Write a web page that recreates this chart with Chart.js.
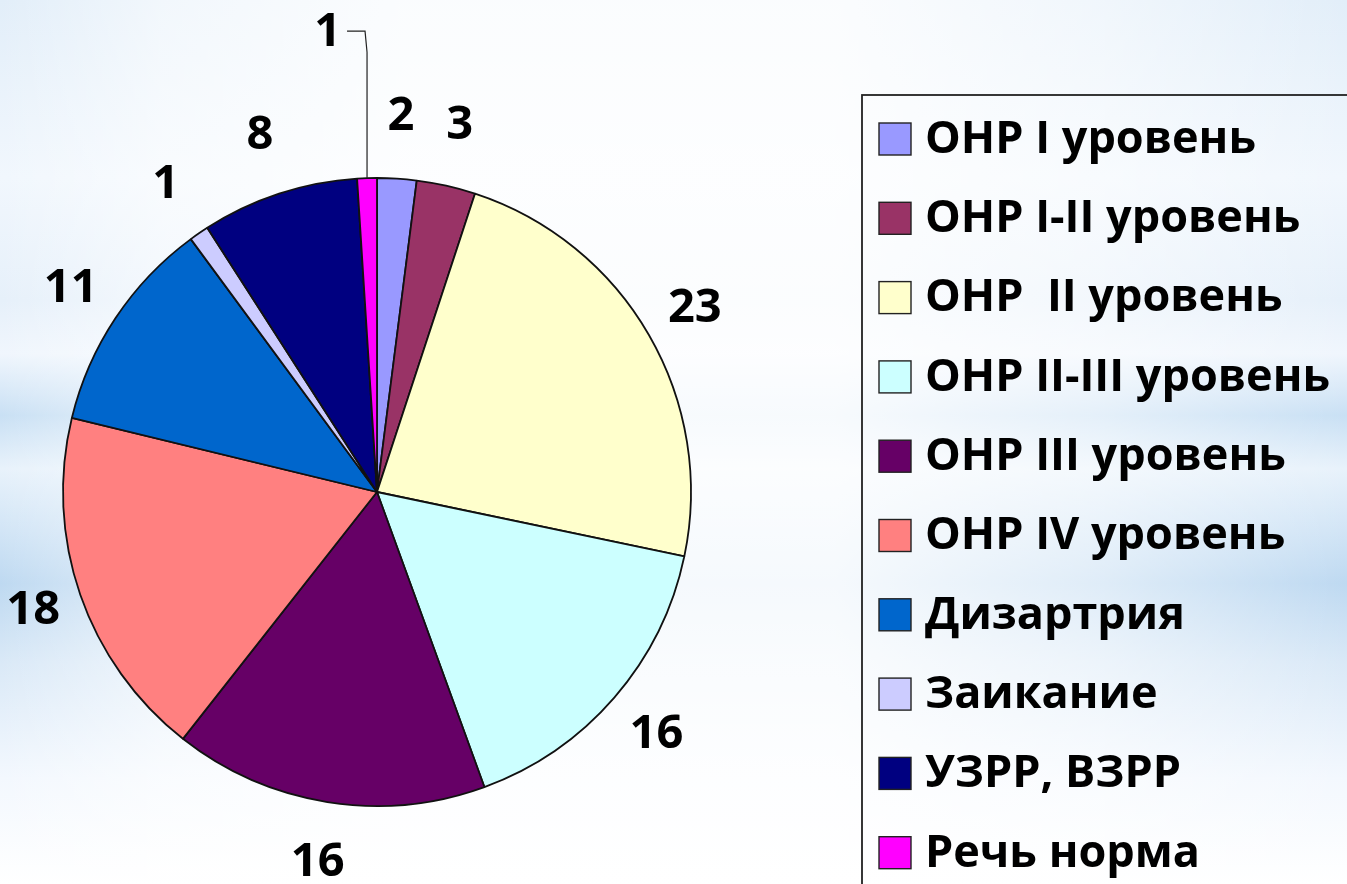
<!DOCTYPE html>
<html>
<head>
<meta charset="utf-8">
<script src="https://cdn.jsdelivr.net/npm/chart.js@4.4.1/dist/chart.umd.min.js"></script>
<style>
  html, body { margin: 0; padding: 0; width: 1347px; height: 884px; overflow: hidden; }
  body {
    background:
      linear-gradient(to right, rgba(255,255,255,0) 0%, rgba(255,255,255,0.55) 12%, rgba(255,255,255,0.85) 30%, rgba(255,255,255,0.85) 62%, rgba(255,255,255,0.5) 82%, rgba(255,255,255,0) 100%),
      linear-gradient(to bottom, #e2eef9 0%, #f1f7fd 20%, #e6f0fa 34%, #f0f6fd 40%, #c9e0f4 47%, #e8f2fb 53%, #d2e5f6 60%, #bed9f1 66%, #dae9f7 75%, #f3f8fe 88%, #ffffff 100%);
  }
  #wrap { position: absolute; left: 0; top: 0; width: 1347px; height: 884px; }
</style>
</head>
<body>
<div id="wrap"><canvas id="c" width="1347" height="884"></canvas></div>
<script>
const categories = [
  'ОНР I уровень',
  'ОНР I-II уровень',
  'ОНР  II уровень',
  'ОНР II-III уровень',
  'ОНР III уровень',
  'ОНР IV уровень',
  'Дизартрия',
  'Заикание',
  'УЗРР, ВЗРР',
  'Речь норма'
];
const values = [2, 3, 23, 16, 16, 18, 11, 1, 8, 1];
const sliceColors = ['#9999FF', '#993366', '#FFFFCC', '#CCFFFF', '#660066', '#FF8080', '#0066CC', '#CCCCFF', '#000080', '#FF00FF'];
const calloutCategory = 'Речь норма';

const FONT = '"Open Sans", "DejaVu Sans", sans-serif';

const labelPlugin = {
  id: 'outsideLabels',
  afterDatasetsDraw(chart) {
    const ctx = chart.ctx;
    const meta = chart.getDatasetMeta(0);
    ctx.save();
    ctx.fillStyle = '#000';
    ctx.font = 'bold 47px ' + FONT;
    ctx.textBaseline = 'middle';
    meta.data.forEach((arc, i) => {
      const p = arc.getProps(['x', 'y', 'startAngle', 'endAngle', 'outerRadius'], true);
      const mid = (p.startAngle + p.endAngle) / 2;
      const dx = Math.cos(mid), dy = Math.sin(mid);
      const text = String(chart.data.datasets[0].data[i]);
      if (chart.data.labels[i] === calloutCategory) {
        const ex = p.x + p.outerRadius * dx;
        const ey = p.y + p.outerRadius * dy;
        ctx.strokeStyle = '#222';
        ctx.lineWidth = 1.2;
        ctx.beginPath();
        ctx.moveTo(ex, ey);
        ctx.lineTo(ex, ey - 126);
        ctx.lineTo(ex - 2, ey - 147);
        ctx.lineTo(ex - 20, ey - 147);
        ctx.stroke();
        ctx.textAlign = 'right';
        ctx.fillText(text, ex - 26, ey - 146);
      } else {
        const d = 44 + 18 * Math.abs(dy);
        const r = p.outerRadius + d;
        ctx.textAlign = 'center';
        ctx.fillText(text, p.x + r * dx, p.y + r * dy);
      }
    });
    ctx.restore();
  }
};

const legendPlugin = {
  id: 'boxLegend',
  afterDraw(chart) {
    const ctx = chart.ctx;
    const ds = chart.data.datasets[0];
    const boxLeft = 862, boxTop = 95;
    ctx.save();
    ctx.strokeStyle = '#222';
    ctx.lineWidth = 1.8;
    ctx.strokeRect(boxLeft, boxTop, chart.width + 20 - boxLeft, chart.height + 20 - boxTop);
    const rowTop = 139, rowStep = 79.3, sq = 32;
    ctx.font = 'bold 45px ' + FONT;
    ctx.textBaseline = 'middle';
    ctx.textAlign = 'left';
    chart.data.labels.forEach((lab, i) => {
      const cy = rowTop + i * rowStep;
      const sx = boxLeft + 17;
      ctx.fillStyle = ds.backgroundColor[i];
      ctx.fillRect(sx, cy - sq / 2, sq, sq);
      ctx.strokeStyle = '#222';
      ctx.lineWidth = 1.4;
      ctx.strokeRect(sx, cy - sq / 2, sq, sq);
      ctx.fillStyle = '#000';
      ctx.fillText(lab, sx + sq + 14, cy + 1);
    });
    ctx.restore();
  }
};

new Chart(document.getElementById('c'), {
  type: 'pie',
  data: {
    labels: categories,
    datasets: [{
      data: values,
      backgroundColor: sliceColors,
      borderColor: '#111',
      borderWidth: 1.8,
      radius: 314
    }]
  },
  options: {
    responsive: false,
    animation: false,
    layout: { padding: { left: 0, right: 593, top: 100, bottom: 0 } },
    plugins: {
      legend: { display: false },
      tooltip: { enabled: false }
    }
  },
  plugins: [labelPlugin, legendPlugin]
});
</script>
</body>
</html>
